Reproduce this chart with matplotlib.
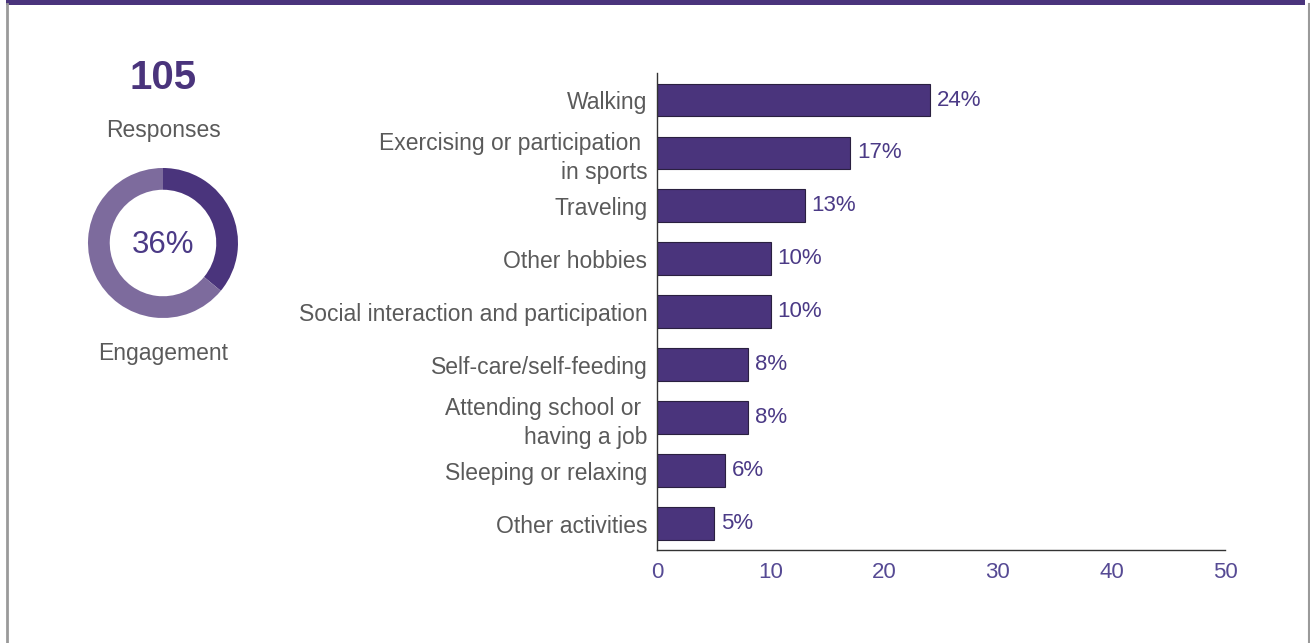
import matplotlib.pyplot as plt
from matplotlib.patches import Rectangle
from matplotlib.lines import Line2D

# activity breakdown
activities = [
    "Walking",
    "Exercising or participation \nin sports",
    "Traveling",
    "Other hobbies",
    "Social interaction and participation",
    "Self-care/self-feeding",
    "Attending school or \nhaving a job",
    "Sleeping or relaxing",
    "Other activities",
]
shares = [24, 17, 13, 10, 10, 8, 8, 6, 5]
x_ticks = [0, 10, 20, 30, 40, 50]

# summary panel
responses = 105
engagement = 36

PURPLE = "#4a347c"
LIGHT_PURPLE = "#7d6b9d"
TEXT_PURPLE = "#4b3a86"
TICK_PURPLE = "#564a94"
GREY_TEXT = "#5a5a5a"
FONT = "Liberation Sans"

plt.rcParams["font.family"] = [FONT, "DejaVu Sans"]

fig = plt.figure(figsize=(13.1, 6.43), dpi=100)
fig.patch.set_facecolor("white")

# frame: purple band on top, grey rules at the sides
fig.add_artist(Rectangle((6 / 1310, 1 - 4.5 / 643), 1299 / 1310, 4.5 / 643,
                         transform=fig.transFigure, color=PURPLE, lw=0))
fig.add_artist(Line2D([7 / 1310, 7 / 1310], [0, 1 - 4 / 643],
                      transform=fig.transFigure, color="#9a9a9a", lw=2))
fig.add_artist(Line2D([1308.5 / 1310, 1308.5 / 1310], [0, 1 - 4 / 643],
                      transform=fig.transFigure, color="#9a9a9a", lw=1.5))

# bar chart
ax = fig.add_axes([657 / 1310, 1 - 550 / 643, 568 / 1310, 477 / 643])
ypos = list(range(len(activities)))
ax.barh(ypos, shares, height=0.62, color=PURPLE, edgecolor="#2a2040", linewidth=0.8)
for y, v in zip(ypos, shares):
    ax.text(v + 0.6, y, f"{v}%", va="center", ha="left",
            fontsize=16, color=TEXT_PURPLE)

ax.set_xlim(0, 50)
ax.set_ylim(len(activities) - 0.5, -0.51)
ax.set_xticks(x_ticks)
ax.set_xticklabels([str(t) for t in x_ticks], fontsize=16, color=TICK_PURPLE)
ax.set_yticks(ypos)
ax.set_yticklabels(activities, fontsize=16.5, color=GREY_TEXT, linespacing=1.3)
ax.tick_params(axis="both", length=0)
ax.tick_params(axis="x", pad=9)
ax.tick_params(axis="y", pad=7)
for side in ["top", "right"]:
    ax.spines[side].set_visible(False)
for side in ["left", "bottom"]:
    ax.spines[side].set_color("#333333")
    ax.spines[side].set_linewidth(1.0)

# engagement donut
cx, cy, r = 163, 243, 75
dax = fig.add_axes([(cx - r) / 1310, (643 - cy - r) / 643, 2 * r / 1310, 2 * r / 643])
dax.pie([engagement, 100 - engagement], colors=[PURPLE, LIGHT_PURPLE],
        startangle=90, counterclock=False, radius=1,
        wedgeprops=dict(width=0.29, linewidth=0))
dax.set_xlim(-1, 1)
dax.set_ylim(-1, 1)
dax.set_aspect("equal")
dax.axis("off")
dax.text(0, -0.03, f"{engagement}%", ha="center", va="center", fontsize=22.5,
         color=TEXT_PURPLE)

fig.text(cx / 1310, 1 - 78 / 643, str(responses), ha="center", va="center",
         fontsize=29, fontweight="bold", color=PURPLE)
fig.text(cx / 1310, 1 - 130 / 643, "Responses", ha="center", va="center",
         fontsize=16.5, color=GREY_TEXT)
fig.text(cx / 1310, 1 - 353 / 643, "Engagement", ha="center", va="center",
         fontsize=16.5, color=GREY_TEXT)

fig.savefig("out.png", dpi=100, facecolor="white")
